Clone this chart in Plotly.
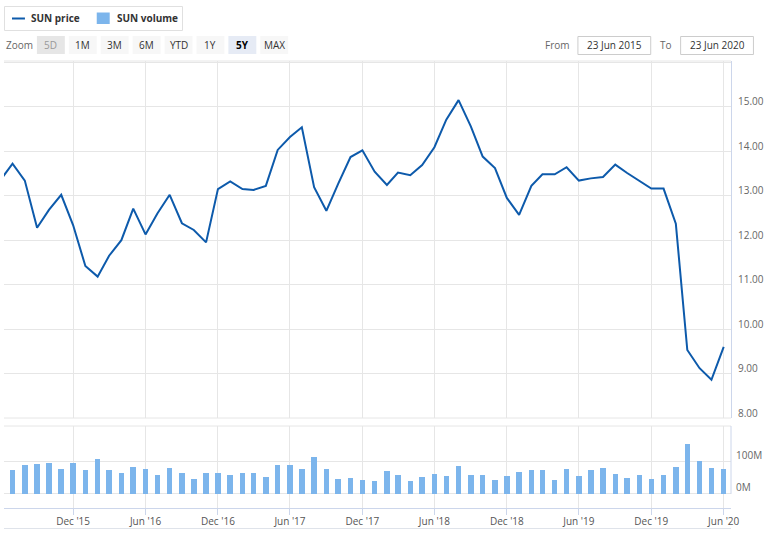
import plotly.graph_objects as go

# ---------------- data ----------------
months = [
    "2015-06-01", "2015-07-01", "2015-08-01", "2015-09-01", "2015-10-01", "2015-11-01", "2015-12-01",
    "2016-01-01", "2016-02-01", "2016-03-01", "2016-04-01", "2016-05-01", "2016-06-01",
    "2016-07-01", "2016-08-01", "2016-09-01", "2016-10-01", "2016-11-01", "2016-12-01",
    "2017-01-01", "2017-02-01", "2017-03-01", "2017-04-01", "2017-05-01", "2017-06-01",
    "2017-07-01", "2017-08-01", "2017-09-01", "2017-10-01", "2017-11-01", "2017-12-01",
    "2018-01-01", "2018-02-01", "2018-03-01", "2018-04-01", "2018-05-01", "2018-06-01",
    "2018-07-01", "2018-08-01", "2018-09-01", "2018-10-01", "2018-11-01", "2018-12-01",
    "2019-01-01", "2019-02-01", "2019-03-01", "2019-04-01", "2019-05-01", "2019-06-01",
    "2019-07-01", "2019-08-01", "2019-09-01", "2019-10-01", "2019-11-01", "2019-12-01",
    "2020-01-01", "2020-02-01", "2020-03-01", "2020-04-01", "2020-05-01", "2020-06-01",
]

price = [
    13.36, 13.72, 13.34, 12.28, 12.68, 13.02, 12.34,
    11.42, 11.18, 11.65, 12.00, 12.71, 12.13,
    12.60, 13.02, 12.38, 12.23, 11.95, 13.15,
    13.32, 13.15, 13.13, 13.22, 14.03, 14.32,
    14.54, 13.19, 12.66, 13.27, 13.87, 14.02,
    13.54, 13.24, 13.52, 13.46, 13.69, 14.09,
    14.71, 15.15, 14.56, 13.88, 13.62, 12.95,
    12.57, 13.22, 13.48, 13.48, 13.64, 13.34,
    13.39, 13.42, 13.70, 13.51, 13.33, 13.16,
    13.16, 12.37, 9.53, 9.12, 8.86, 9.60,
]

volume_m = [
    70, 71.5, 87, 90, 95, 74.5, 95,
    71.5, 105, 71.5, 65, 82.6, 77.5,
    59, 79.7, 65, 47, 64, 64,
    59, 65, 64, 53, 87, 87,
    77.5, 114, 77.5, 47, 50, 44,
    40, 69, 59, 40, 53, 62,
    56, 85, 59, 59, 44, 56,
    68, 71.5, 71.5, 44, 74.5, 56,
    71.5, 79.7, 62, 50, 59, 47,
    59, 82.6, 151, 99, 79.7, 77.5,
]

x_tick_dates = ["2015-12-01", "2016-06-01", "2016-12-01", "2017-06-01", "2017-12-01",
                "2018-06-01", "2018-12-01", "2019-06-01", "2019-12-01", "2020-06-01"]
x_tick_labels = ["Dec '15", "Jun '16", "Dec '16", "Jun '17", "Dec '17",
                 "Jun '18", "Dec '18", "Jun '19", "Dec '19", "Jun '20"]
price_ticks = [8, 9, 10, 11, 12, 13, 14, 15, 16]
price_tick_labels = ["8.00", "9.00", "10.00", "11.00", "12.00", "13.00", "14.00", "15.00", ""]
vol_ticks = [0, 100]
vol_tick_labels = ["0M", "100M"]

zoom_buttons = ["5D", "1M", "3M", "6M", "YTD", "1Y", "5Y", "MAX"]
from_date = "23 Jun 2015"
to_date = "23 Jun 2020"

# ---------------- styling ----------------
LINE_C = "#0d5aab"
BAR_C = "#7cb5ec"
GRID_C = "#e6e6e6"
AXIS_C = "#ccd6eb"
FONT = "Open Sans, Noto Sans, sans-serif"

W, H = 768, 538
ML, MR, MT, MB = 4, 35, 61, 30
PW = W - ML - MR
PH = H - MT - MB


def px(x):
    return (x - ML) / PW


def py(y):
    return (H - MB - y) / PH


fig = go.Figure()
fig.add_trace(go.Scatter(x=months, y=price, mode="lines", name="SUN price",
                         line=dict(color=LINE_C, width=2), xaxis="x", yaxis="y",
                         showlegend=False, hoverinfo="x+y"))
fig.add_trace(go.Bar(x=months, y=volume_m, name="SUN volume", marker=dict(color=BAR_C, line=dict(width=0)),
                     width=14 * 86400000, xaxis="x2", yaxis="y2", showlegend=False))

x_range = ["2015-06-09 10:00", "2020-06-19 10:00"]
price_dom = [py(418), 1]
vol_dom = [0, py(426)]

fig.update_layout(
    width=W, height=H,
    margin=dict(l=ML, r=MR, t=MT, b=MB, pad=0),
    paper_bgcolor="white", plot_bgcolor="white",
    font=dict(family=FONT, size=10, color="#666666"),
    bargap=0,
    xaxis=dict(type="date", range=x_range, domain=[0, 1], anchor="y",
               tickvals=x_tick_dates, ticktext=x_tick_labels, showticklabels=False,
               showgrid=True, gridcolor=GRID_C, gridwidth=1, zeroline=False, showline=False,
               matches="x2"),
    yaxis=dict(domain=price_dom, range=[8, 16.03], side="right", anchor="x",
               tickvals=price_ticks, ticktext=price_tick_labels,
               showgrid=True, gridcolor=GRID_C, gridwidth=1, zeroline=False,
               showline=True, linecolor=AXIS_C, linewidth=1, ticks="",
               ticklabelstandoff=4, ticklabelshift=-5,
               tickfont=dict(family=FONT, size=10, color="#666666")),
    xaxis2=dict(type="date", range=x_range, domain=[0, 1], anchor="y2",
                tickvals=x_tick_dates, ticktext=x_tick_labels,
                showgrid=True, gridcolor=GRID_C, gridwidth=1, zeroline=False,
                showline=True, linecolor=AXIS_C, linewidth=1,
                ticks="outside", ticklen=6, tickcolor=AXIS_C, tickwidth=1,
                ticklabelstandoff=-2,
                tickfont=dict(family=FONT, size=10, color="#555555")),
    yaxis2=dict(domain=vol_dom, range=[-42.8, 207], side="right", anchor="x2",
                tickvals=vol_ticks, ticktext=vol_tick_labels,
                showgrid=True, gridcolor=GRID_C, gridwidth=1, zeroline=False,
                showline=False, ticks="", ticklabelstandoff=4, ticklabelshift=-6,
                tickfont=dict(family=FONT, size=10, color="#666666")),
)

shapes = []
annotations = []

# pane borders
shapes.append(dict(type="line", xref="paper", yref="paper", x0=0, x1=1, y0=1, y1=1,
                   line=dict(color=GRID_C, width=1), layer="below"))
shapes.append(dict(type="line", xref="paper", yref="paper", x0=0, x1=1, y0=py(418), y1=py(418),
                   line=dict(color=GRID_C, width=1), layer="below"))
shapes.append(dict(type="line", xref="paper", yref="paper", x0=0, x1=1, y0=py(426), y1=py(426),
                   line=dict(color=GRID_C, width=1), layer="below"))
shapes.append(dict(type="line", xref="paper", yref="y2", x0=1, x1=1, y0=0, y1=207,
                   line=dict(color=AXIS_C, width=1)))
shapes.append(dict(type="line", xref="paper", yref="paper", x0=0, x1=1, y0=py(528.5), y1=py(528.5),
                   line=dict(color="#dfe3ea", width=1)))

# legend box
shapes.append(dict(type="rect", xref="paper", yref="paper", x0=px(4.5), x1=px(183), y0=py(6.5), y1=py(30.5),
                   line=dict(color="#e0e0e0", width=1), fillcolor="white"))
shapes.append(dict(type="line", xref="paper", yref="paper", x0=px(12), x1=px(25), y0=py(18.5), y1=py(18.5),
                   line=dict(color=LINE_C, width=2)))
shapes.append(dict(type="rect", xref="paper", yref="paper", x0=px(97), x1=px(110), y0=py(12.5), y1=py(24),
                   line=dict(width=0), fillcolor=BAR_C))
annotations.append(dict(text="<b>SUN price</b>", x=px(29), y=py(18.5), xref="paper", yref="paper",
                        xanchor="left", yanchor="middle", showarrow=False,
                        font=dict(family=FONT, size=10, color="#333333")))
annotations.append(dict(text="<b>SUN volume</b>", x=px(115), y=py(18.5), xref="paper", yref="paper",
                        xanchor="left", yanchor="middle", showarrow=False,
                        font=dict(family=FONT, size=10, color="#333333")))

# range selector
annotations.append(dict(text="Zoom", x=px(4), y=py(45), xref="paper", yref="paper",
                        xanchor="left", yanchor="middle", showarrow=False,
                        font=dict(family=FONT, size=10, color="#666666")))
for k, lab in enumerate(zoom_buttons):
    x0 = 37 + 32 * k
    if lab == "5D":
        fill, col, txt = "#e6e6e6", "#999999", lab
    elif lab == "5Y":
        fill, col, txt = "#e6ebf5", "#000000", "<b>" + lab + "</b>"
    else:
        fill, col, txt = "#f7f7f7", "#333333", lab
    shapes.append(dict(type="rect", xref="paper", yref="paper", x0=px(x0), x1=px(x0 + 28),
                       y0=py(36), y1=py(54), line=dict(width=0), fillcolor=fill))
    annotations.append(dict(text=txt, x=px(x0 + 14), y=py(45), xref="paper", yref="paper",
                            xanchor="center", yanchor="middle", showarrow=False,
                            font=dict(family=FONT, size=10, color=col)))

# date inputs
annotations.append(dict(text="From", x=px(574), y=py(45), xref="paper", yref="paper",
                        xanchor="right", yanchor="middle", showarrow=False,
                        font=dict(family=FONT, size=10, color="#666666")))
annotations.append(dict(text="To", x=px(676), y=py(45), xref="paper", yref="paper",
                        xanchor="right", yanchor="middle", showarrow=False,
                        font=dict(family=FONT, size=10, color="#666666")))
for (x0, x1, txt) in [(579.5, 652.5, from_date), (682.5, 755.5, to_date)]:
    shapes.append(dict(type="rect", xref="paper", yref="paper", x0=px(x0), x1=px(x1),
                       y0=py(36.5), y1=py(54.5), line=dict(color="#cccccc", width=1), fillcolor="white"))
    annotations.append(dict(text=txt, x=px((x0 + x1) / 2), y=py(45), xref="paper", yref="paper",
                            xanchor="center", yanchor="middle", showarrow=False,
                            font=dict(family=FONT, size=10, color="#333333")))

fig.update_layout(shapes=shapes, annotations=annotations)

fig.write_html("out.html", config={"displayModeBar": False},
               post_script="document.body.style.margin='0';")
